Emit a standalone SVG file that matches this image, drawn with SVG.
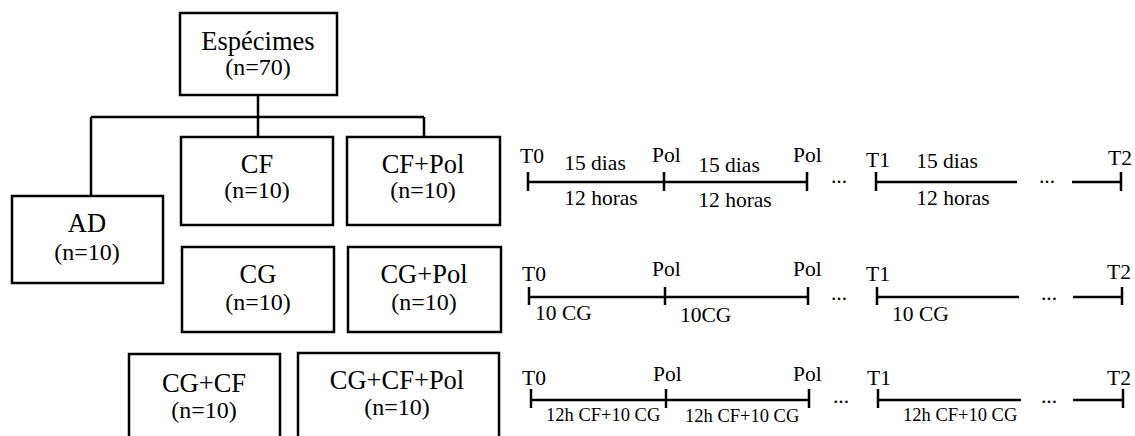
<svg xmlns="http://www.w3.org/2000/svg" width="1135" height="436" viewBox="0 0 1135 436" font-family="'Liberation Serif', 'DejaVu Serif', 'Times New Roman', serif">
<style>
.box{fill:#fff;stroke:#000;stroke-width:2.5}
.ln{stroke:#000;stroke-width:2.5;fill:none}
.tl{stroke:#000;stroke-width:2.5;fill:none}
text{fill:#000}
.t{font-size:26.5px;text-anchor:middle}
.n{font-size:24px;text-anchor:middle}
.s{font-size:21.5px}
.m{font-size:21.5px;text-anchor:middle}
.x{font-size:18.5px}
</style>
<g id="connectors">
<path class="ln" d="M258,95 V117 M91,117 H424 M91,117 V196 M258,117 V137 M424,117 V137"/>
</g>
<g id="especimes"><rect class="box" x="180" y="13" width="157" height="82"/><text class="t" x="258" y="50">Espécimes</text><text class="n" x="258" y="75">(n=70)</text></g>
<g id="cf"><rect class="box" x="181" y="137" width="152" height="88"/><text class="t" x="257" y="173">CF</text><text class="n" x="257" y="198">(n=10)</text></g>
<g id="cfpol"><rect class="box" x="347" y="137" width="153" height="88"/><text class="t" x="423" y="173">CF+Pol</text><text class="n" x="423" y="198">(n=10)</text></g>
<g id="ad"><rect class="box" x="12" y="196" width="151" height="87"/><text class="t" x="87" y="232">AD</text><text class="n" x="87" y="260">(n=10)</text></g>
<g id="cg"><rect class="box" x="182" y="247" width="152" height="85"/><text class="t" x="258" y="283">CG</text><text class="n" x="258" y="310">(n=10)</text></g>
<g id="cgpol"><rect class="box" x="348" y="247" width="153" height="85"/><text class="t" x="424" y="283">CG+Pol</text><text class="n" x="424" y="310">(n=10)</text></g>
<g id="cgcf"><rect class="box" x="129" y="354" width="151" height="90"/><text class="t" x="204" y="392">CG+CF</text><text class="n" x="204" y="418">(n=10)</text></g>
<g id="cgcfpol"><rect class="box" x="298" y="353" width="201" height="90"/><text class="t" x="397" y="389">CG+CF+Pol</text><text class="n" x="397" y="415">(n=10)</text></g>
<g id="timeline1">
<path class="tl" d="M528,182 H807 M528,172 V191 M664,172 V191 M807,172 V191 M876,182 H1017 M876,172 V191 M1072,182 H1121 M1121,172 V191"/>
<text class="s" x="520" y="163">T0</text>
<text class="m" x="595" y="170">15 dias</text>
<text class="s" x="652" y="162">Pol</text>
<text class="m" x="729" y="172">15 dias</text>
<text class="s" x="793" y="162">Pol</text>
<text class="m" x="601" y="205">12 horas</text>
<text class="m" x="735" y="207">12 horas</text>
<text class="m" x="839" y="183">...</text>
<text class="s" x="866" y="167">T1</text>
<text class="m" x="947" y="168">15 dias</text>
<text class="m" x="953" y="205">12 horas</text>
<text class="m" x="1047" y="183">...</text>
<text class="s" x="1108" y="165">T2</text>
</g>
<g id="timeline2">
<path class="tl" d="M529,297 H808 M529,287 V305 M665,287 V305 M808,287 V305 M877,297 H1019 M877,287 V305 M1073,297 H1122 M1122,287 V305"/>
<text class="s" x="522" y="281">T0</text>
<text class="s" x="652" y="276">Pol</text>
<text class="s" x="793" y="276">Pol</text>
<text class="s" x="535" y="320">10 CG</text>
<text class="s" x="680" y="322">10CG</text>
<text class="m" x="839" y="300">...</text>
<text class="s" x="866" y="281">T1</text>
<text class="s" x="892" y="321">10 CG</text>
<text class="m" x="1049" y="300">...</text>
<text class="s" x="1107" y="279">T2</text>
</g>
<g id="timeline3">
<path class="tl" d="M531,400 H809 M531,389 V408 M666,389 V408 M809,389 V408 M878,400 H1021 M878,389 V408 M1073,400 H1123 M1123,389 V408"/>
<text class="s" x="522" y="385">T0</text>
<text class="s" x="653" y="381">Pol</text>
<text class="s" x="793" y="381">Pol</text>
<text class="x" x="546" y="421">12h CF+10 CG</text>
<text class="x" x="685" y="422">12h CF+10 CG</text>
<text class="m" x="841" y="403">...</text>
<text class="s" x="867" y="385">T1</text>
<text class="x" x="903" y="421">12h CF+10 CG</text>
<text class="m" x="1049" y="403">...</text>
<text class="s" x="1107" y="385">T2</text>
</g>
</svg>
